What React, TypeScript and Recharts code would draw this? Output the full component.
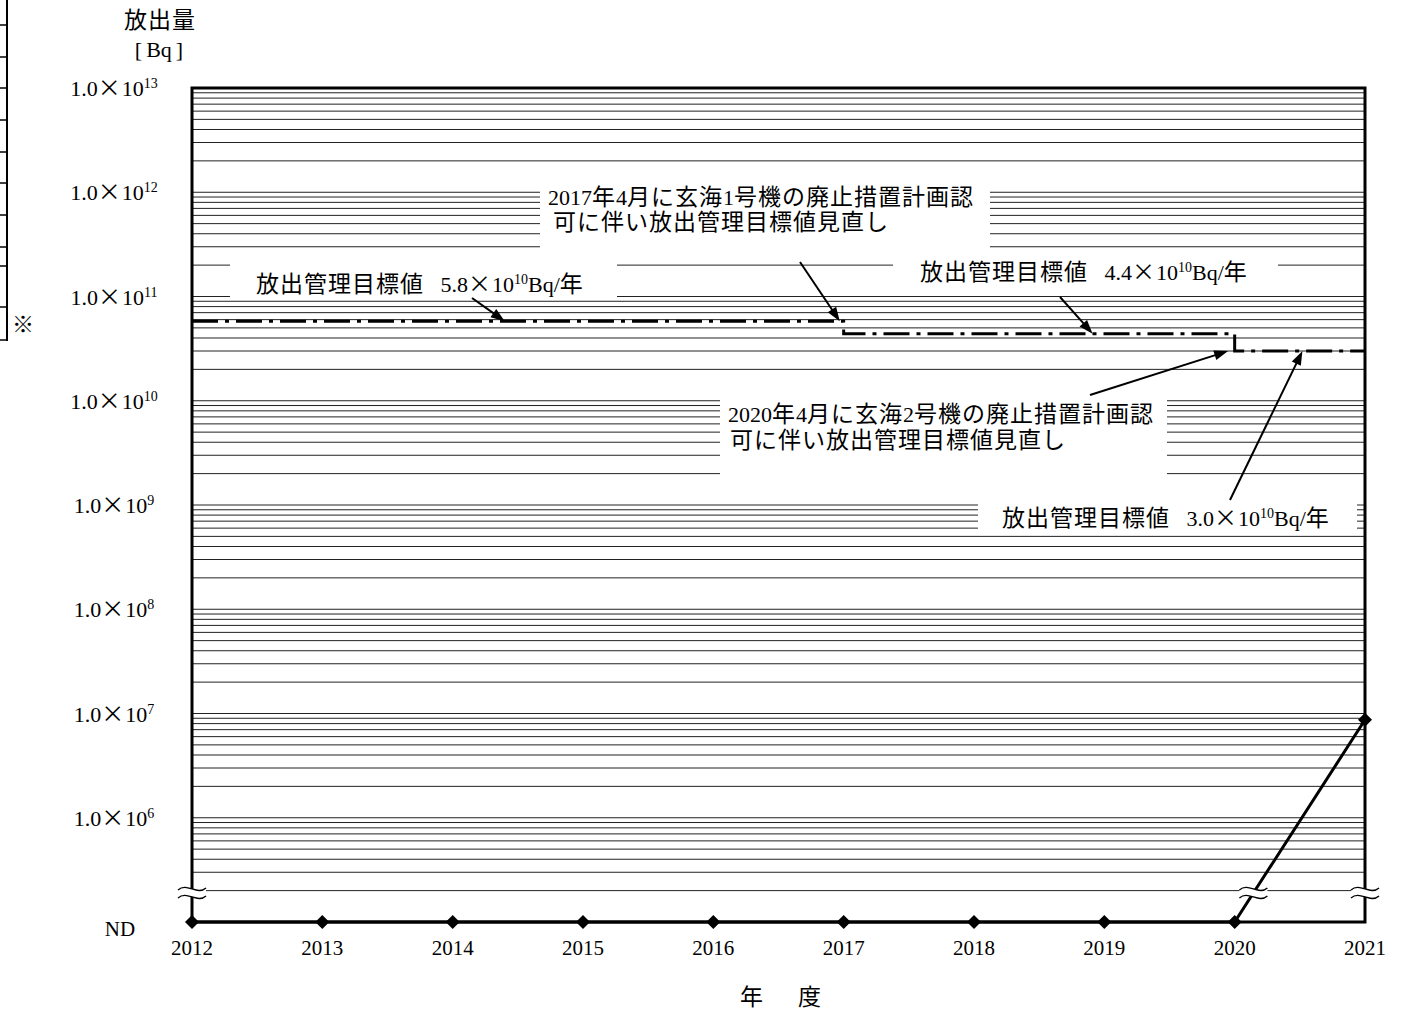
import { LineChart, Line, XAxis, YAxis, CartesianGrid, ReferenceArea, ReferenceDot } from "recharts"

const SERIF = '"Liberation Serif", "Times New Roman", serif'
const CJK_FONT = '"Noto Sans CJK JP", "Noto Sans CJK SC", sans-serif'

// 年度
const YEARS = [2012, 2013, 2014, 2015, 2016, 2017, 2018, 2019, 2020, 2021]
// 放出量 [Bq] ("ND" = 検出限界未満)
const EMISSIONS: (number | "ND")[] = ["ND", "ND", "ND", "ND", "ND", "ND", "ND", "ND", "ND", 8.7e6]
// 放出管理目標値 [Bq/年]
const TARGETS = [5.8e10, 5.8e10, 5.8e10, 5.8e10, 5.8e10, 4.4e10, 4.4e10, 4.4e10, 3.0e10, 3.0e10]

// log axis: decades get a label, every k x 10^n gets a grid line
const DECADES = [5, 6, 7, 8, 9, 10, 11, 12, 13]
const MANTISSAS = [1, 2, 3, 4, 5, 6, 7, 8, 9]
const ND_LEVEL = 1e5 // where "ND" sits on the axis
const BREAK_LEVEL = 1.9e5 // axis break marks

const TOP_LEVEL = 10 ** DECADES[DECADES.length - 1]
const GRID_TICKS = DECADES.slice(0, -1)
  .flatMap((n) => MANTISSAS.map((k) => k * 10 ** n))
  .concat(TOP_LEVEL)
const DECADE_VALUES = DECADES.map((n) => 10 ** n)

const rows = YEARS.map((year, i) => ({
  year,
  emission: EMISSIONS[i] === "ND" ? ND_LEVEL : (EMISSIONS[i] as number),
  target: TARGETS[i],
}))

// where the 2020->2021 segment crosses the break level
const lastVal = rows[rows.length - 1].emission
const breakYear =
  YEARS[YEARS.length - 2] +
  (Math.log10(BREAK_LEVEL) - Math.log10(ND_LEVEL)) / (Math.log10(lastVal) - Math.log10(ND_LEVEL))

type Note = {
  tip: [number, number] // data point the arrow points at
  tail: [number, number] // px
  box: [number, number, number, number] // px
  lines: [number, number, string][]
}

const NOTES: Note[] = [
  {
    tip: [2016.97, 5.8e10],
    tail: [800, 262],
    box: [540, 182, 450, 68],
    lines: [
      [548, 205, "2017年4月に玄海1号機の廃止措置計画認"],
      [553, 230, "可に伴い放出管理目標値見直し"],
    ],
  },
  {
    tip: [2014.4, 5.8e10],
    tail: [472, 298],
    box: [230, 252, 387, 47],
    lines: [[256, 292, "放出管理目標値   5.8×10^10Bq/年"]],
  },
  {
    tip: [2018.91, 4.4e10],
    tail: [1060, 297],
    box: [893, 254, 385, 38],
    lines: [[920, 280, "放出管理目標値   4.4×10^10Bq/年"]],
  },
  {
    tip: [2019.95, 3.0e10],
    tail: [1090, 395],
    box: [720, 386, 447, 96],
    lines: [
      [728, 422, "2020年4月に玄海2号機の廃止措置計画認"],
      [730, 448, "可に伴い放出管理目標値見直し"],
    ],
  },
  {
    tip: [2020.52, 3.0e10],
    tail: [1230, 500],
    box: [978, 498, 379, 35],
    lines: [[1002, 526, "放出管理目標値   3.0×10^10Bq/年"]],
  },
]

const WIDE = /[\u3000-\u9fff\uff00-\uffef×]/
const RUNS = /[\u3000-\u9fff\uff00-\uffef×]+|[^\u3000-\u9fff\uff00-\uffef×]+/g

// latin in serif, kanji/kana in the CJK font, "^NN" as superscript
function mixed(text: string, latin = 22, wide = 23) {
  const out: any[] = []
  let lift = 0
  text.split(/(\^\d+)/).forEach((part, i) => {
    if (!part) return
    if (part[0] === "^") {
      out.push(
        <tspan key={i} dy={-8} fontFamily={SERIF} fontSize={14}>
          {part.slice(1)}
        </tspan>
      )
      lift = 8
      return
    }
    ;(part.match(RUNS) || []).forEach((run, j) => {
      const w = WIDE.test(run)
      out.push(
        <tspan
          key={i + "-" + j}
          dy={lift || undefined}
          fontFamily={w ? CJK_FONT : SERIF}
          fontSize={w ? wide : latin}
          letterSpacing={w ? 1 : undefined}
        >
          {run}
        </tspan>
      )
      lift = 0
    })
  })
  return out
}

function YTick(props: any) {
  const v = props.payload.value
  const y = props.y
  if (v === ND_LEVEL)
    return (
      <text x={120} y={y + 14} textAnchor="middle" fontFamily={SERIF} fontSize={21} fill="#000">
        ND
      </text>
    )
  if (!DECADE_VALUES.includes(v)) return <g />
  const n = Math.round(Math.log10(v))
  return (
    <text x={114} y={y + 8} textAnchor="middle" fill="#000" style={{ whiteSpace: "pre" }}>
      {mixed("1.0×10^" + n)}
    </text>
  )
}

function XTick(props: any) {
  return (
    <text x={props.x} y={955} textAnchor="middle" fontFamily={SERIF} fontSize={21} fill="#000">
      {props.payload.value}
    </text>
  )
}

function Diamond(props: any) {
  const { cx, cy, index } = props
  return (
    <polygon
      key={"d" + index}
      points={`${cx},${cy - 7} ${cx + 7},${cy} ${cx},${cy + 7} ${cx - 7},${cy}`}
      fill="#000"
    />
  )
}

function BreakMark(props: any) {
  const { cx, cy } = props
  const wave = (o: number) =>
    `M${cx - 14},${cy + o + 1} C${cx - 5},${cy + o - 7} ${cx + 5},${cy + o + 7} ${cx + 14},${cy + o - 1}`
  const fillPath =
    wave(-4) +
    ` L${cx + 14},${cy + 3} C${cx + 5},${cy + 11} ${cx - 5},${cy - 3} ${cx - 14},${cy + 5} Z`
  return (
    <g>
      <path d={fillPath} fill="#fff" stroke="none" />
      <path d={wave(-4)} fill="none" stroke="#000" strokeWidth={1.4} />
      <path d={wave(4)} fill="none" stroke="#000" strokeWidth={1.4} />
    </g>
  )
}

function noteShape(note: Note) {
  return (p: any) => {
    const [tx, ty] = note.tail
    const dx = p.cx - tx
    const dy = p.cy - ty
    const len = Math.hypot(dx, dy)
    const ux = dx / len
    const uy = dy / len
    const hx = p.cx - ux * 14
    const hy = p.cy - uy * 14
    const [bx, by, bw, bh] = note.box
    return (
      <g>
        <rect x={bx} y={by} width={bw} height={bh} fill="#fff" />
        {note.lines.map(([lx, ly, t], i) => (
          <text key={i} x={lx} y={ly} fill="#000" style={{ whiteSpace: "pre" }}>
            {mixed(t)}
          </text>
        ))}
        <line x1={tx} y1={ty} x2={hx + ux * 3} y2={hy + uy * 3} stroke="#000" strokeWidth={2} />
        <polygon
          points={`${p.cx},${p.cy} ${hx - uy * 5},${hy + ux * 5} ${hx + uy * 5},${hy - ux * 5}`}
          fill="#000"
        />
      </g>
    )
  }
}

// stray table edge from the source document (left margin)
const EDGE_ROWS = [25, 57, 88, 120, 152, 183, 215, 247, 266, 307, 340]

export default function App() {
  return (
    <div style={{ position: "absolute", left: 0, top: 0, width: 1402, height: 1011, background: "#fff" }}>
      <svg width={40} height={345} style={{ position: "absolute", left: 0, top: 0 }}>
        <line x1={7} y1={0} x2={7} y2={341} stroke="#000" strokeWidth={2} />
        {EDGE_ROWS.map((y) => (
          <line key={y} x1={0} y1={y} x2={7} y2={y} stroke="#000" strokeWidth={1.5} />
        ))}
      </svg>
      <div
        style={{
          position: "absolute",
          left: 12,
          top: 310,
          fontFamily: CJK_FONT,
          fontSize: 22,
          lineHeight: "24px",
        }}
      >
        ※
      </div>

      <LineChart
        width={1402}
        height={1011}
        data={rows}
        margin={{ top: 88, right: 37, bottom: 0, left: 0 }}
      >
        <CartesianGrid vertical={false} stroke="#222" strokeWidth={1} />

        <XAxis
          dataKey="year"
          type="number"
          domain={[YEARS[0], YEARS[YEARS.length - 1]]}
          ticks={YEARS}
          interval={0}
          axisLine={false}
          tickLine={false}
          height={89}
          tick={(p: any) => <XTick {...p} />}
        />
        <YAxis
          type="number"
          scale="log"
          domain={[ND_LEVEL, TOP_LEVEL]}
          ticks={GRID_TICKS}
          interval={0}
          axisLine={false}
          tickLine={false}
          width={192}
          tick={(p: any) => <YTick {...p} />}
        />

        <ReferenceArea
          x1={YEARS[0]}
          x2={YEARS[YEARS.length - 1]}
          y1={ND_LEVEL}
          y2={TOP_LEVEL}
          fill="none"
          fillOpacity={0}
          stroke="#000"
          strokeWidth={3}
          ifOverflow="visible"
        />

        <Line
          dataKey="target"
          type="stepAfter"
          stroke="#000"
          strokeWidth={3}
          strokeDasharray="26 7 4 7"
          dot={false}
          activeDot={false}
          isAnimationActive={false}
        />
        <Line
          dataKey="emission"
          type="linear"
          stroke="#000"
          strokeWidth={3}
          dot={(p: any) => <Diamond {...p} />}
          activeDot={false}
          isAnimationActive={false}
        />

        <ReferenceDot x={YEARS[0]} y={BREAK_LEVEL} ifOverflow="visible" shape={(p: any) => <BreakMark {...p} />} />
        <ReferenceDot
          x={YEARS[YEARS.length - 1]}
          y={BREAK_LEVEL}
          ifOverflow="visible"
          shape={(p: any) => <BreakMark {...p} />}
        />
        <ReferenceDot x={breakYear} y={BREAK_LEVEL} ifOverflow="visible" shape={(p: any) => <BreakMark {...p} />} />

        {NOTES.map((n, i) => (
          <ReferenceDot key={i} x={n.tip[0]} y={n.tip[1]} ifOverflow="visible" shape={noteShape(n)} />
        ))}

        {/* axis titles */}
        <text x={160} y={28} textAnchor="middle" fontFamily={CJK_FONT} fontSize={23} letterSpacing={1} fill="#000">
          放出量
        </text>
        <text x={159} y={57} textAnchor="middle" fontFamily={SERIF} fontSize={22} fill="#000">
          <tspan>[</tspan>
          <tspan dx={4}>Bq</tspan>
          <tspan dx={4}>]</tspan>
        </text>
        <text y={1005} fontFamily={CJK_FONT} fontSize={23} fill="#000">
          <tspan x={740}>年</tspan>
          <tspan x={798}>度</tspan>
        </text>
      </LineChart>
    </div>
  )
}
